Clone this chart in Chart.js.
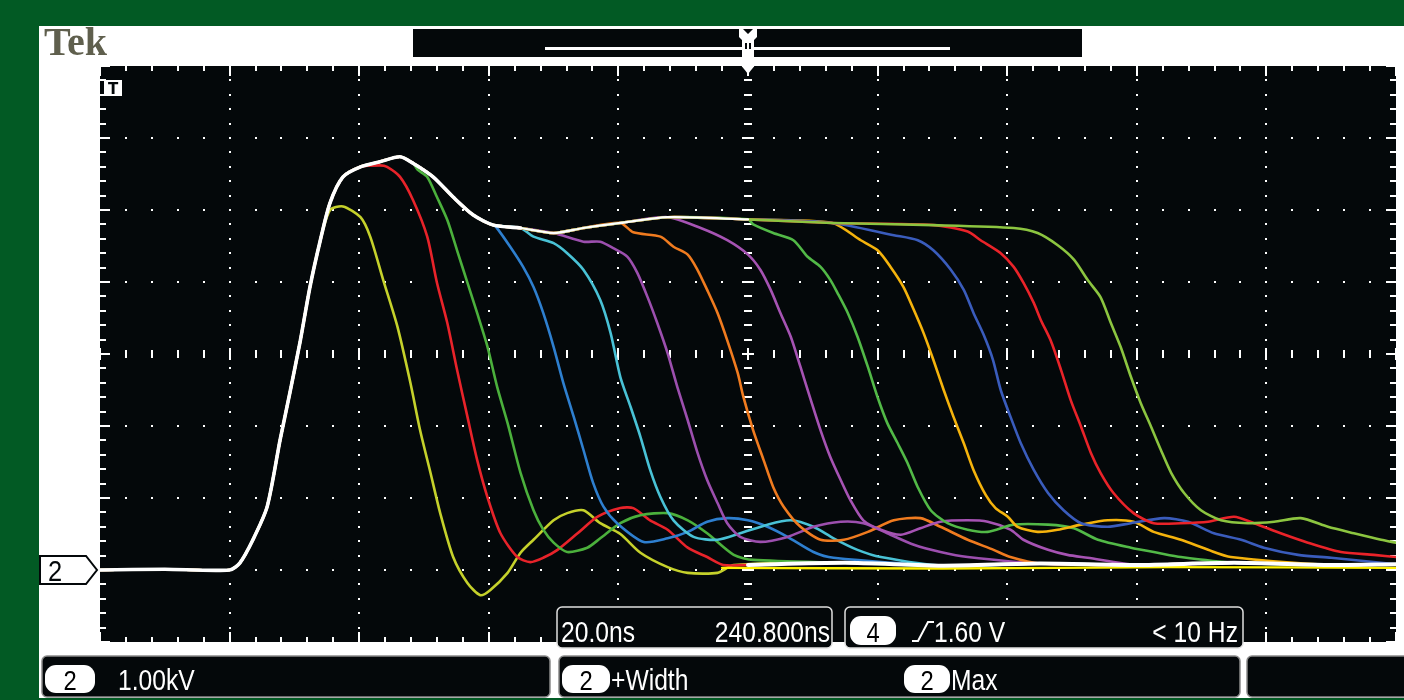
<!DOCTYPE html>
<html>
<head>
<meta charset="utf-8">
<script src="https://cdn.jsdelivr.net/npm/chart.js@4.4.1/dist/chart.umd.min.js"></script>
<style>
html, body { margin: 0; padding: 0; background: #025a24; overflow: hidden; }
canvas { display: block; }
</style>
</head>
<body>
<canvas id="scope" width="1404" height="700"></canvas>
<script>
// Scope settings: 20 ns/div over 10 divisions, 1 kV/div, ground one division above bottom
const timeRange = [0, 200];
const voltRange = [-1, 7];

// Rising edge + overshoot + plateau shared by every acquisition (ns, kV)
const riseCommon = [[0,0.0],[10,0.01],[20,0.0],[21.6,0.1],[23.6,0.42],[25.8,0.88],[27.8,1.81],[29.3,2.46],[30.9,3.18],[32.4,3.93],[34.0,4.58],[35.5,5.1],[37.5,5.46],[40.2,5.6],[43.2,5.67],[46.3,5.74],[48.3,5.65],[51.4,5.46],[54.5,5.18],[57.6,4.93],[60.7,4.79],[64.9,4.75],[70,4.68],[74.6,4.75],[80.3,4.82],[87.6,4.9],[100,4.87],[113,4.82],[128.6,4.79],[141,4.75]];

// Settled baseline after each pulse
const baselineTail = [[100,0.07],[115,0.1],[130,0.06],[145,0.09],[160,0.07],[175,0.1],[190,0.07],[200,0.08]];
const yellowBase = [[96,0.03],[130,0.02],[165,0.04],[200,0.03]];

// Falling edges, one per pulse width
const yellowGreenFall = [[35.5,5.0],[37.5,5.05],[40.2,4.9],[41.7,4.63],[43.7,4.03],[45.9,3.38],[47.9,2.6],[49.4,1.94],[51.0,1.35],[52.5,0.79],[54.5,0.18],[56.7,-0.18],[58.7,-0.35],[60.2,-0.28],[62.9,-0.04],[64.9,0.24],[66.9,0.42],[70,0.69],[72.1,0.79],[74.6,0.83],[77.2,0.65],[80.3,0.5],[83.4,0.24],[87.6,0.04],[90.7,-0.04],[95.3,-0.04],[97.8,0.07]];
const red1Fall = [[43.2,5.62],[44.3,5.6],[46.3,5.46],[48.3,5.14],[50.5,4.63],[52.0,3.99],[53.6,3.43],[55.1,2.78],[56.7,2.13],[58.2,1.53],[59.8,1.01],[61.8,0.51],[64.4,0.18],[66.4,0.11],[68.4,0.17],[70.6,0.28],[73.7,0.51],[76.8,0.74],[80.3,0.86],[82.3,0.86],[84.9,0.69],[87.6,0.56],[90.7,0.31],[93.7,0.18],[96.2,0.07]];
const green1Fall = [[49,5.56],[50.5,5.46],[52.0,5.18],[53.6,4.86],[55.1,4.44],[56.7,3.99],[58.2,3.57],[59.8,3.1],[61.3,2.54],[62.9,2.04],[64.9,1.35],[66.9,0.83],[68.4,0.56],[70,0.38],[72.1,0.25],[75.2,0.31],[77.2,0.44],[80.3,0.65],[83.4,0.76],[87.6,0.79],[90.7,0.69],[93.7,0.51],[97.8,0.21],[100.8,0.14]];
const blue1Fall = [[61,4.78],[63.3,4.49],[65.3,4.21],[66.9,3.93],[68.4,3.57],[70,3.1],[71.5,2.6],[73.1,2.13],[74.6,1.67],[76.1,1.21],[77.7,0.88],[79.8,0.65],[83.9,0.39],[87.6,0.44],[90.7,0.53],[93.7,0.67],[96.8,0.72],[100,0.69],[103,0.6],[106.1,0.46],[110.1,0.25],[113.2,0.17]];
const cyanFall = [[66.9,4.63],[70,4.54],[72.1,4.4],[74.6,4.17],[77.2,3.75],[78.8,3.29],[80.3,2.68],[81.9,2.26],[83.4,1.85],[84.9,1.39],[86.5,1.01],[88.5,0.69],[91.6,0.46],[95.3,0.42],[98.8,0.51],[103,0.63],[106.6,0.69],[110.1,0.6],[113.2,0.44],[116.9,0.28],[120.5,0.18]];
const purple1Fall = [[74.6,4.56],[77.2,4.56],[79.2,4.47],[81.4,4.35],[82.9,4.13],[84.5,3.79],[86,3.43],[87.6,3.01],[89.1,2.54],[90.7,2.08],[92.2,1.63],[93.7,1.25],[95.3,0.93],[96.8,0.65],[98.8,0.46],[101.9,0.39],[106.1,0.46],[110.1,0.6],[114.3,0.67],[117.8,0.65],[121.5,0.51],[125.6,0.35],[129.7,0.25],[133.9,0.18]];
const orangeFall = [[82.3,4.69],[86.5,4.63],[88.5,4.49],[90.7,4.38],[92.2,4.17],[93.7,3.89],[95.3,3.57],[96.8,3.19],[98.4,2.74],[99.3,2.4],[100.8,1.94],[102.4,1.53],[103.9,1.15],[105.5,0.88],[108.1,0.6],[111.2,0.42],[114.8,0.42],[118.5,0.53],[122.5,0.69],[126.6,0.72],[129.7,0.6],[133.9,0.42],[137.9,0.28],[140.5,0.18]];
const purple2Fall = [[92.7,4.75],[96.8,4.58],[100,4.38],[101.9,4.17],[103.5,3.89],[105,3.57],[106.6,3.24],[108.1,2.82],[109.7,2.36],[111.2,1.94],[112.7,1.57],[114.3,1.25],[115.8,0.97],[117.8,0.69],[120.5,0.56],[123.6,0.49],[126.6,0.58],[129.7,0.67],[133.9,0.69],[137,0.67],[140.5,0.56],[142.5,0.42],[146.3,0.28],[149.3,0.21],[152.4,0.17]];
const green2Fall = [[100.8,4.8],[103.9,4.68],[107,4.58],[109.2,4.35],[111.2,4.21],[112.7,4.03],[113.8,3.85],[115.4,3.57],[116.9,3.24],[118.5,2.82],[120,2.4],[121.5,2.04],[123.1,1.76],[124.6,1.49],[126.2,1.15],[128.2,0.83],[130.8,0.65],[133.9,0.56],[137,0.53],[141,0.63],[146.3,0.63],[150.3,0.58],[154,0.42],[159.1,0.31],[163.2,0.24],[166.8,0.18]];
const amberFall = [[117.4,4.58],[120,4.44],[122,4.21],[124,3.93],[125.6,3.61],[127.1,3.29],[128.6,2.92],[130.2,2.5],[131.7,2.13],[133.3,1.76],[134.8,1.39],[136.7,1.04],[138.2,0.86],[140.1,0.74],[141.6,0.6],[144.7,0.53],[147.8,0.56],[151.4,0.63],[155.5,0.69],[159.5,0.67],[162.6,0.53],[166.8,0.42],[171,0.28],[174.5,0.18]];
const blue2Fall = [[122.5,4.65],[126.2,4.58],[128.6,4.44],[131.3,4.17],[133.3,3.89],[134.8,3.57],[136.4,3.26],[137.8,2.92],[139,2.5],[140.5,2.13],[142.1,1.76],[144.1,1.39],[146.3,1.07],[148.7,0.83],[151.4,0.65],[155.5,0.6],[159.1,0.65],[164.2,0.72],[167.9,0.67],[171.9,0.51],[176.1,0.42],[179.6,0.31],[184.9,0.21],[190,0.17]];
const red2Fall = [[133.9,4.7],[135.9,4.58],[139,4.4],[141,4.21],[142.5,3.99],[144.1,3.71],[145.2,3.47],[146.7,3.19],[148.3,2.78],[149.8,2.36],[151.4,1.99],[152.9,1.63],[154.4,1.35],[156.4,1.07],[159.5,0.79],[162.6,0.65],[166.8,0.65],[171,0.67],[175,0.74],[178.1,0.65],[182.2,0.51],[186.4,0.38],[191.5,0.25],[196.6,0.21],[200,0.18]];
const limeFall = [[144.7,4.68],[147.8,4.51],[150.3,4.31],[152.4,4.03],[154.4,3.79],[156,3.43],[157.5,3.1],[159.1,2.68],[160.6,2.32],[162.2,1.99],[163.7,1.67],[165.3,1.35],[167.3,1.07],[169.9,0.83],[173,0.69],[177.1,0.65],[181.2,0.67],[185.3,0.72],[189.5,0.6],[193.5,0.51],[197.7,0.42],[200,0.38]];

const falls = [yellowGreenFall, red1Fall, green1Fall, blue1Fall, cyanFall, purple1Fall, orangeFall, purple2Fall, green2Fall, amberFall, blue2Fall, red2Fall, limeFall];
const splitAt = [35.5, 43.2, 49, 61, 65, 71, 81, 92, 100.5, 114, 118, 129, 142];
const traceColors = ['#c5d12b', '#e8232a', '#4bb03c', '#2e7fcf', '#49c2d6', '#9c4fae', '#f07b1f', '#a653b3', '#52b947', '#f5b30c', '#3a5cbc', '#ea2329', '#8cc540'];

function toXY(arr) {
    return arr.map(p => ({ x: p[0], y: p[1] }));
}

function buildTrace(i) {
    const fall = falls[i];
    const last = fall[fall.length - 1][0];
    const pts = riseCommon.filter(p => p[0] < splitAt[i])
        .concat(fall)
        .concat(baselineTail.filter(p => p[0] > last + 3));
    return toXY(pts);
}

const datasets = [];
// white persistence where all acquisitions overlap
datasets.push({ data: toXY(riseCommon.filter(p => p[0] <= 64.9)), borderColor: '#ffffff', borderWidth: 3.6 });
datasets.push({ data: toXY(riseCommon.filter(p => p[0] >= 60.7 && p[0] <= 100)), borderColor: '#ffffff', borderWidth: 2.2 });
datasets.push({ data: toXY(baselineTail), borderColor: '#ffffff', borderWidth: 4 });
datasets.push({ data: toXY(yellowBase), borderColor: '#fff200', borderWidth: 2.4 });
for (let i = falls.length - 1; i >= 0; i--) {
    datasets.push({ data: buildTrace(i), borderColor: traceColors[i], borderWidth: 2.6 });
}

// Condensed readout text (scope font is narrow)
function readout(ctx, str, x, y, size, color, align) {
    ctx.save();
    ctx.font = size + 'px "Liberation Sans", Arial, sans-serif';
    ctx.fillStyle = color;
    ctx.textBaseline = 'alphabetic';
    ctx.textAlign = align || 'left';
    ctx.translate(x, y);
    ctx.scale(0.85, 1);
    ctx.fillText(str, 0, 0);
    ctx.restore();
}

function pill(ctx, x, y, w, h, num) {
    ctx.fillStyle = '#ffffff';
    ctx.beginPath();
    ctx.roundRect(x, y, w, h, 11);
    ctx.fill();
    readout(ctx, num, x + w / 2, y + h - 3, 28, '#000000', 'center');
}

function box(ctx, x, y, w, h, edge) {
    ctx.fillStyle = '#04080a';
    ctx.beginPath();
    ctx.roundRect(x, y, w, h, 5);
    ctx.fill();
    ctx.strokeStyle = edge;
    ctx.lineWidth = 1.5;
    ctx.stroke();
}

const scopeFrame = {
    id: 'scopeFrame',
    beforeDraw(chart) {
        const ctx = chart.ctx;
        ctx.save();
        ctx.fillStyle = '#025a24';
        ctx.fillRect(0, 0, chart.width, chart.height);
        ctx.fillStyle = '#ffffff';
        ctx.fillRect(39, 26, chart.width - 39, 672);
        ctx.restore();
    },
    beforeDatasetsDraw(chart) {
        const { ctx, chartArea: a, scales: { x, y } } = chart;
        ctx.save();
        ctx.fillStyle = '#04080a';
        ctx.fillRect(a.left, a.top, a.right - a.left, a.bottom - a.top);
        ctx.fillStyle = '#ffffff';

        const xMinor = [], yMinor = [];
        for (let i = 0; i <= 50; i++) xMinor.push(i * 4);
        for (let i = 0; i <= 40; i++) yMinor.push(-1 + i * 0.2);
        const px = t => Math.round(x.getPixelForValue(t));
        const py = v => Math.round(y.getPixelForValue(v));

        // dotted graticule
        for (let t = 20; t <= 180; t += 20) {
            if (t === 100) continue;
            yMinor.forEach(v => ctx.fillRect(px(t) - 1, py(v) - 1, 2, 2));
        }
        for (let v = 0; v <= 6; v++) {
            if (v === 3) continue;
            xMinor.forEach(t => ctx.fillRect(px(t) - 1, py(v) - 1, 2, 2));
        }

        // centre cross with tick marks
        const cx = px(100), cy = py(3);
        yMinor.forEach((v, i) => {
            const w = i % 5 === 0 ? 12 : 8;
            ctx.fillRect(cx - w / 2, py(v) - 1, w, 2);
        });
        xMinor.forEach((t, i) => {
            const h = i % 5 === 0 ? 12 : 8;
            ctx.fillRect(px(t) - 1, cy - h / 2, 2, h);
        });

        // edge ticks
        xMinor.forEach((t, i) => {
            const h = i % 5 === 0 ? 10 : 5;
            ctx.fillRect(px(t) - 1, a.top, 2, h);
            ctx.fillRect(px(t) - 1, a.bottom - h, 2, h);
        });
        yMinor.forEach((v, i) => {
            const w = i % 5 === 0 ? 10 : 6;
            ctx.fillRect(a.left, py(v) - 1, w, 2);
            ctx.fillRect(a.right - w, py(v) - 1, w, 2);
        });
        ctx.restore();
    },
    afterDatasetsDraw(chart) {
        const { ctx, chartArea: a, scales: { x, y } } = chart;
        const cx = Math.round(x.getPixelForValue(100));
        const gy = Math.round(y.getPixelForValue(0));
        ctx.save();

        // Tek logo
        ctx.fillStyle = '#5f5f4d';
        ctx.font = 'bold 40px "Liberation Serif", "DejaVu Serif", serif';
        ctx.textBaseline = 'alphabetic';
        ctx.textAlign = 'left';
        ctx.fillText('Tek', 44, 55);

        // record view bar
        ctx.fillStyle = '#04080a';
        ctx.fillRect(413, 29, 669, 28);
        ctx.fillStyle = '#ffffff';
        ctx.fillRect(545, 47, 405, 3);
        ctx.beginPath();
        ctx.moveTo(cx - 9, 29); ctx.lineTo(cx - 5, 29); ctx.lineTo(cx, 34);
        ctx.lineTo(cx + 5, 29); ctx.lineTo(cx + 9, 29); ctx.lineTo(cx + 9, 37);
        ctx.lineTo(cx + 6, 40); ctx.lineTo(cx + 6, 57); ctx.lineTo(cx - 6, 57);
        ctx.lineTo(cx - 6, 40); ctx.lineTo(cx - 9, 37); ctx.closePath();
        ctx.fill();
        ctx.fillStyle = '#04080a';
        ctx.fillRect(cx - 3, 43, 2, 6);
        ctx.fillRect(cx + 1, 43, 2, 6);

        // trigger position marker
        ctx.fillStyle = '#ffffff';
        ctx.beginPath();
        ctx.moveTo(cx - 8, 57); ctx.lineTo(cx + 8, 57); ctx.lineTo(cx + 8, 64);
        ctx.lineTo(cx, 74); ctx.lineTo(cx - 8, 64); ctx.closePath();
        ctx.fill();

        // small T marker at top-left of graticule
        ctx.fillRect(a.left + 4, 80, 18, 16);
        ctx.fillStyle = '#04080a';
        ctx.font = 'bold 15px "DejaVu Sans", sans-serif';
        ctx.textAlign = 'center';
        ctx.fillText('T', a.left + 13, 94);

        // channel 2 ground marker
        ctx.fillStyle = '#ffffff';
        ctx.strokeStyle = '#04080a';
        ctx.lineWidth = 2;
        ctx.beginPath();
        ctx.moveTo(40, gy - 14); ctx.lineTo(86, gy - 14); ctx.lineTo(97, gy);
        ctx.lineTo(86, gy + 14); ctx.lineTo(40, gy + 14); ctx.closePath();
        ctx.fill();
        ctx.stroke();
        readout(ctx, '2', 48, gy + 11, 30, '#04080a', 'left');

        // timebase and trigger readouts
        box(ctx, 557, 607, 275, 41, '#e0e0e0');
        readout(ctx, '20.0ns', 561, 642, 29, '#ffffff', 'left');
        readout(ctx, '240.800ns', 830, 642, 29, '#ffffff', 'right');
        box(ctx, 845, 607, 398, 41, '#e0e0e0');
        pill(ctx, 850, 616, 46, 29, '4');
        ctx.strokeStyle = '#ffffff';
        ctx.lineWidth = 2;
        ctx.beginPath();
        ctx.moveTo(912, 641); ctx.lineTo(918, 641); ctx.lineTo(928, 622); ctx.lineTo(934, 622);
        ctx.stroke();
        readout(ctx, '1.60 V', 934, 642, 29, '#ffffff', 'left');
        readout(ctx, '< 10 Hz', 1238, 642, 29, '#ffffff', 'right');

        // bottom measurement row
        box(ctx, 42, 656, 508, 41, '#8a8a8a');
        pill(ctx, 45, 665, 50, 28, '2');
        readout(ctx, '1.00kV', 118, 690, 29, '#ffffff', 'left');
        box(ctx, 559, 656, 681, 41, '#8a8a8a');
        pill(ctx, 562, 665, 48, 28, '2');
        readout(ctx, '+Width', 611, 690, 29, '#ffffff', 'left');
        pill(ctx, 904, 665, 46, 28, '2');
        readout(ctx, 'Max', 951, 690, 29, '#ffffff', 'left');
        box(ctx, 1247, 656, 170, 41, '#8a8a8a');

        ctx.restore();
    }
};

new Chart(document.getElementById('scope'), {
    type: 'line',
    data: { datasets: datasets },
    options: {
        responsive: false,
        animation: false,
        spanGaps: false,
        layout: { padding: { left: 100, top: 66, right: 8, bottom: 58 } },
        plugins: { legend: { display: false }, tooltip: { enabled: false } },
        elements: {
            point: { radius: 0 },
            line: { tension: 0.25, borderJoinStyle: 'round', borderCapStyle: 'round' }
        },
        scales: {
            x: { type: 'linear', min: timeRange[0], max: timeRange[1], display: false },
            y: { type: 'linear', min: voltRange[0], max: voltRange[1], display: false }
        }
    },
    plugins: [scopeFrame]
});
</script>
</body>
</html>
